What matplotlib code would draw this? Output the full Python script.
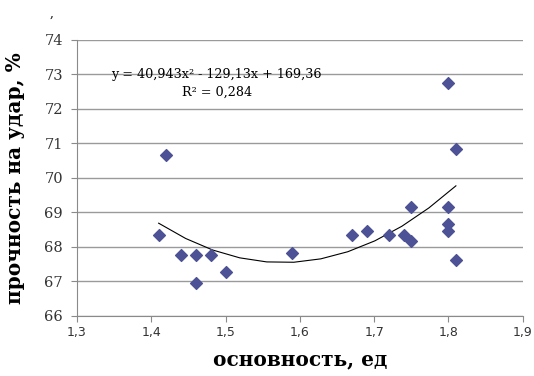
import matplotlib.pyplot as plt
import numpy as np

basicity = [1.41, 1.42, 1.44, 1.46, 1.46, 1.48, 1.50, 1.59, 1.67, 1.69,
            1.72, 1.74, 1.75, 1.75, 1.80, 1.80, 1.80, 1.80, 1.81, 1.81]
strength = [68.33, 70.65, 67.75, 67.75, 66.95, 67.75, 67.26, 67.82, 68.34, 68.45,
            68.34, 68.34, 69.15, 68.16, 72.74, 69.15, 68.65, 68.45, 70.85, 67.63]

# trendline coefficients as printed on the chart
coef = [40.943, -129.13, 169.36]
r2 = 0.284

xticks = [1.3, 1.4, 1.5, 1.6, 1.7, 1.8, 1.9]
yticks = [66, 67, 68, 69, 70, 71, 72, 73, 74]

fig = plt.figure(figsize=(5.34, 3.76), dpi=100)
ax = fig.add_axes([0.144, 0.160, 0.835, 0.734])

ax.grid(axis='y', color='#9a9a9a', linewidth=1)
ax.set_axisbelow(True)
ax.scatter(basicity, strength, marker='D', s=36, color='#4d5196', zorder=3)

xs = np.linspace(min(basicity), max(basicity), 12)
ax.plot(xs, np.polyval(coef, xs), color='black', linewidth=0.8, zorder=2)

ax.set_xlim(1.3, 1.9)
ax.set_ylim(66, 74)
ax.set_xticks(xticks)
ax.set_yticks(yticks)
ax.set_xticklabels([f'{t:.1f}'.replace('.', ',') for t in xticks],
                   fontsize=9, family='DejaVu Sans', color='#333333')
ax.set_yticklabels([str(t) for t in yticks], fontsize=10.5,
                   family='DejaVu Serif', color='#333333')
for s in ('top', 'right'):
    ax.spines[s].set_visible(False)
for s in ('left', 'bottom'):
    ax.spines[s].set_color('#8a8a8a')
ax.tick_params(axis='both', length=4, color='#8a8a8a', pad=3)
ax.tick_params(axis='y', pad=6)

ax.text(1.488, 73.0, 'y = 40,943x² - 129,13x + 169,36', fontsize=9.2,
        family='DejaVu Serif', ha='center', va='center')
ax.text(1.488, 72.47, f'R² = {r2}'.replace('.', ','), fontsize=9.2,
        family='DejaVu Serif', ha='center', va='center')

ax.set_xlabel('основность, ед', fontsize=14.5, fontweight='bold',
              family='DejaVu Serif', labelpad=8)
ax.set_ylabel('прочность на удар, %', fontsize=14.5, fontweight='bold',
              family='DejaVu Serif', labelpad=14)
fig.text(0.097, 0.955, ',', fontsize=9, family='DejaVu Serif', ha='center')

fig.savefig('out.png', dpi=100)
